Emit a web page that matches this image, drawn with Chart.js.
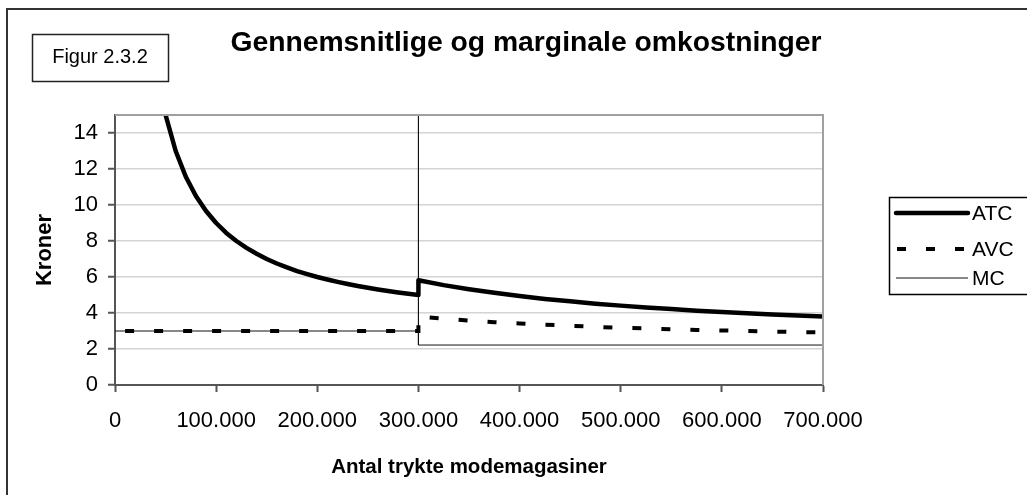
<!DOCTYPE html>
<html>
<head>
<meta charset="utf-8">
<script src="https://cdn.jsdelivr.net/npm/chart.js@4/dist/chart.umd.min.js"></script>
<style>
  html, body { margin: 0; padding: 0; background: #fff; }
  #wrap { width: 1027px; height: 495px; position: relative; }
</style>
</head>
<body>
<div id="wrap"><canvas id="chart" width="1027" height="495"></canvas></div>
<script>
// values (kroner per magasin)
const atcQ = [10000, 20000, 30000, 40000, 50000, 60000, 70000, 80000, 90000, 100000,
  110000, 120000, 130000, 140000, 150000, 160000, 170000, 180000, 190000, 200000,
  210000, 220000, 230000, 240000, 250000, 260000, 270000, 280000, 290000, 300000,
  300000, 325000, 350000, 375000, 400000, 425000, 450000, 475000, 500000, 525000,
  550000, 575000, 600000, 625000, 650000, 675000, 700000];
const atcKr = [63, 33, 23, 18, 15, 13, 11.57, 10.5, 9.67, 9,
  8.45, 8, 7.62, 7.29, 7, 6.75, 6.53, 6.33, 6.16, 6,
  5.86, 5.73, 5.61, 5.5, 5.4, 5.31, 5.22, 5.14, 5.07, 5.0,
  5.82, 5.55, 5.32, 5.12, 4.94, 4.78, 4.65, 4.52, 4.41, 4.31,
  4.22, 4.13, 4.06, 3.99, 3.92, 3.86, 3.80];

const avcQ = [10000, 300000, 300000, 325000, 350000, 375000, 400000, 425000, 450000,
  475000, 500000, 525000, 550000, 575000, 600000, 625000, 650000, 675000, 700000];
const avcKr = [3, 3, 3.80, 3.68, 3.58, 3.49, 3.42, 3.35, 3.29,
  3.23, 3.18, 3.14, 3.10, 3.06, 3.03, 3.00, 2.97, 2.94, 2.92];

const mcQ = [0, 300000, 300000, 300000, 700000];
const mcKr = [3, 3, 20, 2.22, 2.22];

const seriesNames = ['ATC', 'AVC', 'MC'];
const xTicks = [0, 100000, 200000, 300000, 400000, 500000, 600000, 700000];
const yTicks = [0, 2, 4, 6, 8, 10, 12, 14];

function pts(qs, ys) {
  return qs.map((q, i) => ({ x: q, y: ys[i] }));
}

function fmtDK(v) {
  return String(v).replace(/\B(?=(\d{3})+(?!\d))/g, '.');
}

const FONT = "'Liberation Sans', Arial, sans-serif";

const decorations = {
  id: 'decorations',
  beforeDraw(chart) {
    const ctx = chart.ctx;
    ctx.save();
    ctx.fillStyle = '#fff';
    ctx.fillRect(0, 0, chart.width, chart.height);
    ctx.restore();
  },
  afterDraw(chart) {
    const ctx = chart.ctx;
    const a = chart.chartArea;
    ctx.save();

    // outer frame (only left and top visible)
    ctx.strokeStyle = '#333';
    ctx.lineWidth = 2;
    ctx.beginPath();
    ctx.moveTo(7, 500);
    ctx.lineTo(7, 9);
    ctx.lineTo(1030, 9);
    ctx.stroke();

    // plot area border top / right
    ctx.strokeStyle = '#a0a0a0';
    ctx.lineWidth = 2;
    ctx.beginPath();
    ctx.moveTo(a.left, a.top);
    ctx.lineTo(a.right, a.top);
    ctx.lineTo(a.right, a.bottom);
    ctx.stroke();

    // title
    ctx.fillStyle = '#000';
    ctx.font = 'bold 28.3px ' + FONT;
    ctx.textAlign = 'center';
    ctx.textBaseline = 'middle';
    ctx.fillText('Gennemsnitlige og marginale omkostninger', 526, 43);

    // Figur box
    ctx.strokeStyle = '#222';
    ctx.lineWidth = 1.5;
    ctx.strokeRect(32.5, 34.5, 136, 47);
    ctx.font = '20px ' + FONT;
    ctx.fillText('Figur 2.3.2', 100, 57);

    // legend
    ctx.strokeStyle = '#000';
    ctx.lineWidth = 1.5;
    ctx.strokeRect(889.5, 197.5, 160, 97);
    const rows = [213, 249, 278];
    chart.data.datasets.forEach((ds, i) => {
      const y = rows[i];
      ctx.beginPath();
      ctx.strokeStyle = ds.borderColor;
      ctx.lineWidth = ds.borderWidth;
      ctx.setLineDash(ds.borderDash || []);
      ctx.lineCap = i === 0 ? 'round' : 'butt';
      ctx.moveTo(i === 1 ? 897 : 896, y);
      ctx.lineTo(968, y);
      ctx.stroke();
      ctx.setLineDash([]);
      ctx.fillStyle = '#000';
      ctx.font = '21px ' + FONT;
      ctx.textAlign = 'left';
      ctx.fillText(ds.label, 972, y + 1);
    });
    ctx.restore();
  }
};

new Chart(document.getElementById('chart'), {
  type: 'line',
  data: {
    datasets: [
      {
        label: seriesNames[0],
        data: pts(atcQ, atcKr),
        borderColor: '#000',
        borderWidth: 4.5,
        pointRadius: 0,
        tension: 0,
        borderJoinStyle: 'round'
      },
      {
        label: seriesNames[1],
        data: pts(avcQ, avcKr),
        borderColor: '#000',
        borderWidth: 4,
        borderDash: [9, 20],
        pointRadius: 0,
        tension: 0
      },
      {
        label: seriesNames[2],
        data: pts(mcQ, mcKr),
        borderColor: '#111',
        borderWidth: 1,
        pointRadius: 0,
        tension: 0
      }
    ]
  },
  options: {
    responsive: false,
    animation: false,
    events: [],
    layout: { padding: { top: 115, right: 204, left: 0, bottom: 0 } },
    plugins: {
      legend: { display: false },
      title: { display: false },
      tooltip: { enabled: false }
    },
    scales: {
      x: {
        type: 'linear',
        min: 0,
        max: 700000,
        afterFit(scale) { scale.height = 110; },
        afterBuildTicks(scale) { scale.ticks = xTicks.map(v => ({ value: v })); },
        ticks: {
          color: '#000',
          font: { family: FONT, size: 22 },
          padding: 16,
          maxRotation: 0,
          autoSkip: false,
          callback: v => fmtDK(v)
        },
        grid: {
          drawOnChartArea: false,
          drawTicks: true,
          tickLength: 7,
          tickColor: '#555',
          tickWidth: 2
        },
        border: { color: '#555', width: 2 },
        title: {
          display: true,
          text: 'Antal trykte modemagasiner',
          color: '#000',
          font: { family: FONT, size: 20.5, weight: 'bold' },
          padding: { top: 0, bottom: 15 }
        }
      },
      y: {
        min: 0,
        max: 15,
        afterFit(scale) { scale.width = 115; },
        afterBuildTicks(scale) { scale.ticks = yTicks.map(v => ({ value: v })); },
        ticks: {
          color: '#000',
          font: { family: FONT, size: 22 },
          padding: 10,
          autoSkip: false
        },
        grid: {
          color: '#d4d4d4',
          lineWidth: 1.5,
          tickLength: 7,
          tickColor: '#555',
          tickWidth: 2
        },
        border: { color: '#555', width: 2 },
        title: {
          display: true,
          text: 'Kroner',
          color: '#000',
          font: { family: FONT, size: 22, weight: 'bold' },
          padding: { top: 32, bottom: 0 }
        }
      }
    }
  },
  plugins: [decorations]
});
</script>
</body>
</html>
